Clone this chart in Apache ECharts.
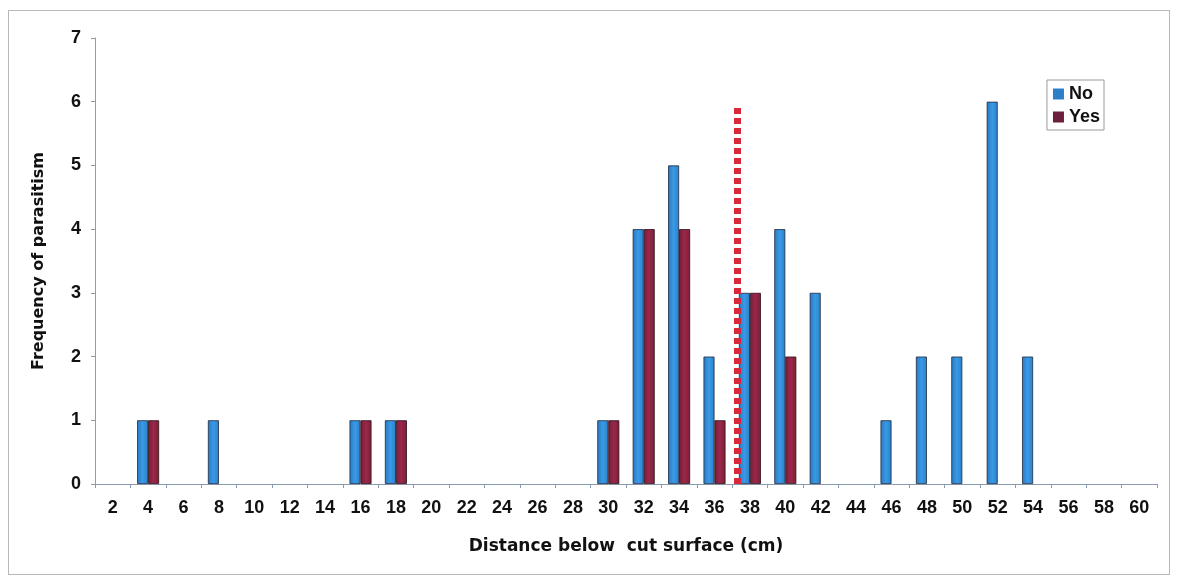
<!DOCTYPE html>
<html>
<head>
<meta charset="utf-8">
<script src="https://cdn.jsdelivr.net/npm/echarts@6/dist/echarts.min.js"></script>
<style>
  html, body { margin: 0; padding: 0; background: #fff; }
  #frame {
    position: absolute; left: 8px; top: 10px; width: 1162px; height: 565px;
    border: 1px solid #b8b8b8; box-sizing: border-box;
  }
  #chart { width: 1180px; height: 577px; }
</style>
</head>
<body>
<div id="frame"></div>
<div id="chart"></div>
<script>
// distance below cut surface (cm)
const distances = ['2', '4', '6', '8', '10', '12', '14', '16', '18', '20', '22', '24', '26', '28', '30',
  '32', '34', '36', '38', '40', '42', '44', '46', '48', '50', '52', '54', '56', '58', '60'];
// frequency of parasitism
const noValues = [0, 1, 0, 1, 0, 0, 0, 1, 1, 0, 0, 0, 0, 0, 1,
  4, 5, 2, 3, 4, 3, 0, 1, 2, 2, 6, 2, 0, 0, 0];
const yesValues = [0, 1, 0, 0, 0, 0, 0, 1, 1, 0, 0, 0, 0, 0, 1,
  4, 4, 1, 3, 2, 0, 0, 0, 0, 0, 0, 0, 0, 0, 0];
// dotted cut-off line (distance, top)
const cutoffDistance = 37.3;
const cutoffTop = 5.9;

const chart = echarts.init(document.getElementById('chart'));

const font = '"Liberation Sans", Arial, sans-serif';
const wide = '"DejaVu Sans", sans-serif';
const blue = new echarts.graphic.LinearGradient(0, 0, 1, 0, [
  { offset: 0, color: '#2a78c0' },
  { offset: 0.5, color: '#3a9ae6' },
  { offset: 1, color: '#2a80c8' },
]);
const maroon = new echarts.graphic.LinearGradient(0, 0, 1, 0, [
  { offset: 0, color: '#7a1c3c' },
  { offset: 0.5, color: '#9a2848' },
  { offset: 1, color: '#7c1e38' },
]);
// zero counts draw no bar
const noBar = v => (v === 0 ? '-' : v);

chart.setOption({
  animation: false,
  textStyle: { fontFamily: font },
  grid: { left: 95, right: 23, top: 38, bottom: 93 },
  legend: {
    data: [
      { name: 'No', itemStyle: { color: '#2b7fc8', borderWidth: 0 } },
      { name: 'Yes', itemStyle: { color: '#6a1f3c', borderWidth: 0 } },
    ],
    orient: 'vertical',
    right: 76,
    top: 80,
    itemWidth: 11,
    itemHeight: 11,
    itemGap: 5,
    padding: [5, 4, 4, 6],
    borderColor: '#9a9a9a',
    borderWidth: 1,
    icon: 'rect',
    textStyle: { fontSize: 18, fontWeight: 'bold', color: '#111', fontFamily: font, padding: [0, 0, 0, 0] },
  },
  xAxis: [
    {
      type: 'category',
      data: distances,
      name: 'Distance below  cut surface (cm)',
      nameLocation: 'middle',
      nameGap: 54,
      nameTextStyle: { fontSize: 17, fontWeight: 'bold', color: '#111', fontFamily: wide },
      axisLine: { lineStyle: { color: '#8a9ab0', width: 1 } },
      axisTick: { show: true, length: 4, lineStyle: { color: '#8a9ab0' } },
      axisLabel: { fontSize: 18, fontWeight: 'bold', color: '#111', margin: 15, fontFamily: font },
    },
    {
      type: 'value',
      min: 1,
      max: 61,
      show: false,
    },
  ],
  yAxis: {
    type: 'value',
    min: 0,
    max: 7,
    interval: 1,
    name: 'Frequency of parasitism',
    nameLocation: 'middle',
    nameGap: 48,
    nameTextStyle: { fontSize: 16, fontWeight: 'bold', color: '#111', fontFamily: wide },
    axisLine: { show: true, lineStyle: { color: '#9a9a9a' } },
    axisTick: { show: true, length: 4, lineStyle: { color: '#9a9a9a' } },
    axisLabel: { fontSize: 18, fontWeight: 'bold', color: '#111', margin: 14, fontFamily: font },
    splitLine: { show: false },
  },
  series: [
    {
      name: 'No',
      type: 'bar',
      data: noValues.map(noBar),
      barWidth: 11,
      barGap: '0%',
      itemStyle: { color: blue, borderColor: '#1e2a40', borderWidth: 0.8 },
    },
    {
      name: 'Yes',
      type: 'bar',
      data: yesValues.map(noBar),
      barWidth: 11,
      itemStyle: { color: maroon, borderColor: '#2a1018', borderWidth: 0.8 },
    },
    {
      name: 'cutoff',
      type: 'line',
      xAxisIndex: 1,
      data: [[cutoffDistance, 0], [cutoffDistance, cutoffTop]],
      symbol: 'none',
      z: 5,
      lineStyle: { color: '#d8283a', width: 7, type: [6, 4] },
    },
  ],
});
</script>
</body>
</html>
